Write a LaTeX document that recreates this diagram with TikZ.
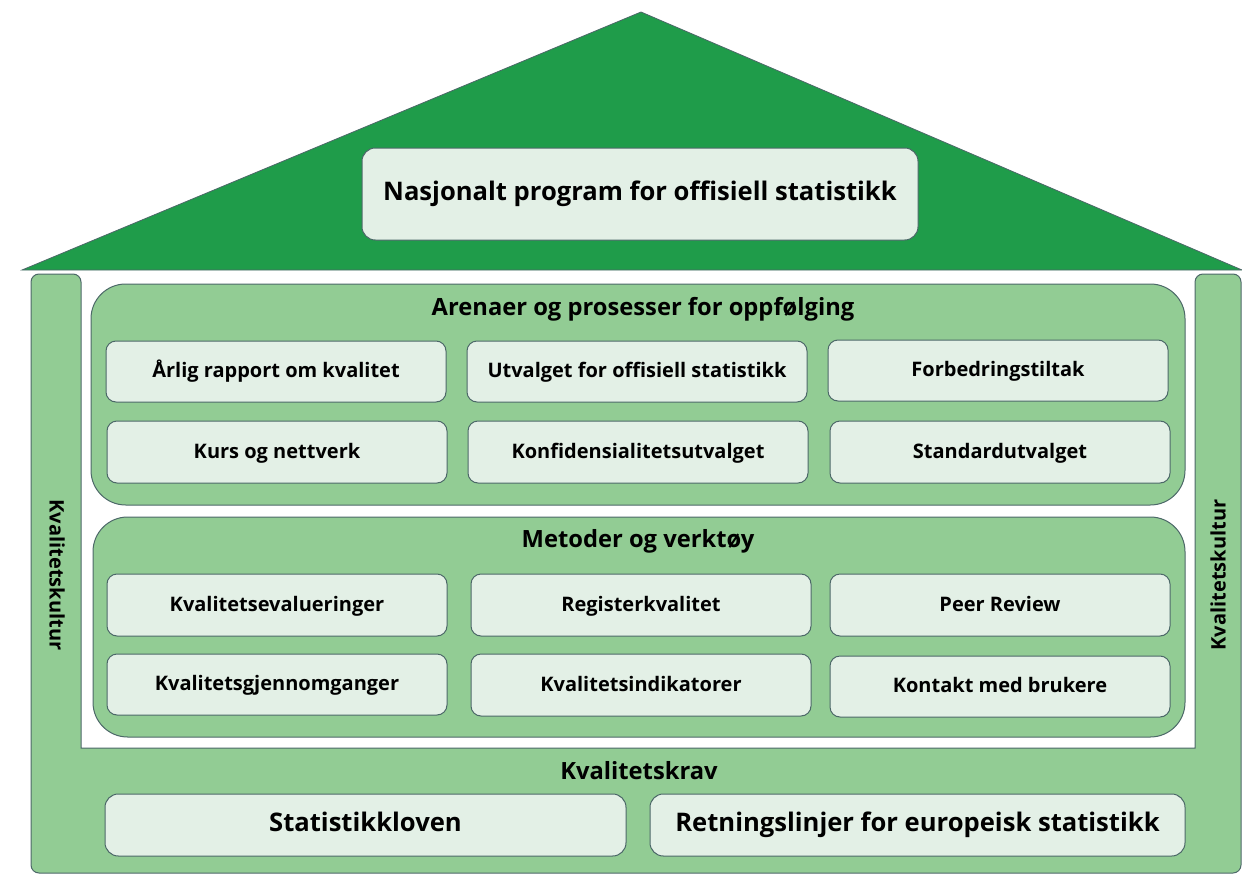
\documentclass[tikz,border=0pt]{standalone}
\usepackage{fontspec}
\setmainfont{Open Sans}
\usetikzlibrary{fit}
\definecolor{roofgreen}{HTML}{1F9C4A}
\definecolor{basegreen}{HTML}{92CC94}
\definecolor{boxfill}{HTML}{E3F0E6}
\definecolor{edge}{HTML}{4C6868}
\tikzset{
  px/.style={x=0.75pt,y=-0.75pt},
  roof/.style={fill=roofgreen,draw=edge,line width=0.6pt,line join=miter},
  base/.style={fill=basegreen,draw=edge,line width=0.75pt},
  container/.style={fill=basegreen,draw=edge,line width=0.75pt,rounded corners=26pt,inner sep=0pt},
  cell/.style={fill=boxfill,draw=edge,line width=0.75pt,rounded corners=7.5pt,inner sep=0pt},
  cellfont/.style={inner sep=0pt,text height=1.0em,text depth=0.05em,font=\bfseries\fontsize{15}{17}\selectfont},
  bigfont/.style={inner sep=0pt,text height=1.05em,text depth=0.05em,font=\bfseries\fontsize{19.2}{22}\selectfont},
  bigcell/.style={cell,rounded corners=10pt},
  title/.style={inner sep=0pt,text height=1.05em,text depth=0.05em,font=\bfseries\fontsize{17.8}{20}\selectfont},
  side/.style={font=\bfseries\fontsize{15}{17}\selectfont,inner sep=0pt},
}
\begin{document}
\begin{tikzpicture}[px]
\useasboundingbox (0,0) rectangle (1242,874);
% base (pillars and floor)
\draw[base] (31,600) [rounded corners=6pt] -- (31,274) -- (81,274) -- (81,400)
  [sharp corners] -- (81,748) -- (1195,748) -- (1195,400)
  [rounded corners=6pt] -- (1195,274) -- (1241,274) -- (1241,873) -- (31,873) -- cycle;
% roof
\draw[roof] (22,270) -- (641,12) -- (1242,270) -- cycle;
\node[bigcell,fit={(362,148) (918,240)},label={[bigfont]center:Nasjonalt program for offisiell statistikk}] (nat) {};
% side labels
\node[side,rotate=-90] (kl) at (57,575) {Kvalitetskultur};
\node[side,rotate=90] (kr) at (1218,575) {Kvalitetskultur};
% section 1
\node[container,fit={(91,284) (1185,505)}] (sec1) {};
\node[title] (t1) at (643,309) {Arenaer og prosesser for oppfølging};
\node[cell,fit={(106,341) (446,402)},label={[cellfont]center:Årlig rapport om kvalitet}] (a1) {};
\node[cell,fit={(467,341) (807,402)},label={[cellfont]center:Utvalget for offisiell statistikk}] (a2) {};
\node[cell,fit={(828,340) (1168,401)},label={[cellfont]center:Forbedringstiltak}] (a3) {};
\node[cell,fit={(107,421) (447,483)},label={[cellfont]center:Kurs og nettverk}] (a4) {};
\node[cell,fit={(468,421) (808,483)},label={[cellfont]center:Konfidensialitetsutvalget}] (a5) {};
\node[cell,fit={(830,421) (1170,483)},label={[cellfont]center:Standardutvalget}] (a6) {};
% section 2
\node[container,fit={(93,517) (1185,737)}] (sec2) {};
\node[title] (t2) at (638,541) {Metoder og verktøy};
\node[cell,fit={(107,574) (447,636)},label={[cellfont]center:Kvalitetsevalueringer}] (b1) {};
\node[cell,fit={(471,574) (811,636)},label={[cellfont]center:Registerkvalitet}] (b2) {};
\node[cell,fit={(830,574) (1170,636)},label={[cellfont]center:Peer Review}] (b3) {};
\node[cell,fit={(107,654) (447,715)},label={[cellfont]center:Kvalitetsgjennomganger}] (b4) {};
\node[cell,fit={(471,654) (811,716)},label={[cellfont]center:Kvalitetsindikatorer}] (b5) {};
\node[cell,fit={(830,656) (1170,717)},label={[cellfont]center:Kontakt med brukere}] (b6) {};
% floor
\node[title] (t3) at (639,773) {Kvalitetskrav};
\node[bigcell,fit={(105,794) (626,856)},label={[bigfont]center:Statistikkloven}] (c1) {};
\node[bigcell,fit={(650,794) (1185,856)},label={[bigfont]center:Retningslinjer for europeisk statistikk}] (c2) {};
\end{tikzpicture}
\end{document}
